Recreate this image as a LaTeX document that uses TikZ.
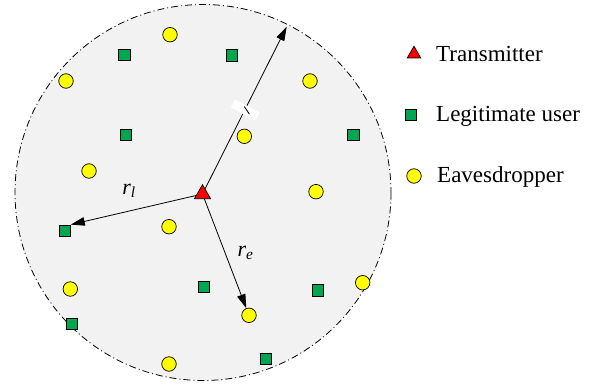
\documentclass[tikz,border=0pt]{standalone}
\usepackage{fontspec}
\setmainfont{Liberation Serif}
\usetikzlibrary{shapes.geometric,arrows.meta}
\definecolor{ugreen}{RGB}{0,166,80}
\definecolor{eyellow}{RGB}{255,255,0}
\definecolor{bgray}{RGB}{242,242,242}
\begin{document}
\begin{tikzpicture}[x=1pt,y=-1pt,
  user/.style={draw=black,line width=0.7pt,fill=ugreen,rectangle,minimum size=11.5pt,inner sep=0pt},
  eve/.style={draw=black,line width=0.7pt,fill=eyellow,circle,minimum size=14.5pt,inner sep=0pt},
  txs/.style={draw=black,line width=0.7pt,fill=red,regular polygon,regular polygon sides=3,minimum size=18.6pt,inner sep=0pt},
  link/.style={line width=0.8pt,-{Triangle[length=14pt,width=8.5pt]}},
  lbl/.style={font=\fontsize{23}{23}\selectfont,anchor=base west,inner sep=0pt},
  rlab/.style={font=\fontsize{22}{22}\selectfont,inner sep=0pt},
]
\useasboundingbox (0,0) rectangle (602,388);
% coverage area
\path[fill=bgray,draw=black,line width=0.8pt,dash pattern=on 7pt off 3pt on 1pt off 3pt]
  (203,192.5) circle[radius=188];
% legitimate users
\node[user] (g1) at (124.3,55) {};
\node[user] (g2) at (232,55.3) {};
\node[user] (g3) at (125.7,135) {};
\node[user] (g4) at (353.3,135) {};
\node[user] (g5) at (64.7,230.7) {};
\node[user] (g6) at (204,287) {};
\node[user] (g7) at (317.7,290.5) {};
\node[user] (g8) at (71.7,323.7) {};
\node[user] (g9) at (266,359) {};
% eavesdroppers
\node[eve] (e1) at (170,34.7) {};
\node[eve] (e2) at (66,81) {};
\node[eve] (e3) at (310,81) {};
\node[eve] (e4) at (244.3,136.3) {};
\node[eve] (e5) at (89,171) {};
\node[eve] (e6) at (316,191.7) {};
\node[eve] (e7) at (169,226.7) {};
\node[eve] (e8) at (70.3,289) {};
\node[eve] (e9) at (362.7,282.7) {};
\node[eve] (e10) at (249,315.3) {};
\node[eve] (e11) at (169,364) {};
% transmitter
\node[txs] (T) at (202.5,194) {};
\coordinate (edge) at (286.7,26.7);
\draw[link] (T) -- (edge);
\draw[link] (T) -- (g5.north east);
\draw[link] (T) -- (e10);
% break mark on the radius
\node[fill=white,minimum width=28pt,minimum height=9pt,inner sep=0pt,rotate=-28] (brk) at (245.3,110) {};
\coordinate (ta) at (244.3,106.5);
\coordinate (tb) at (249.3,114);
\draw[line width=0.8pt] (ta) -- (tb);
% distance labels
\node[rlab] (rl) at (129,191) {\textit{r}\textsubscript{\textit{l}}};
\node[rlab] (re) at (245.5,253) {\textit{r}\textsubscript{\textit{e}}};
% legend
\node[txs,minimum size=15.6pt] (lt) at (414,54) {};
\node[user] (lu) at (411,115) {};
\node[eve] (le) at (414,176) {};
\node[lbl] (ltt) at (436,61) {Transmitter};
\node[lbl] (lut) at (436,121.7) {Legitimate user};
\node[lbl] (let) at (437,182.5) {Eavesdropper};
\end{tikzpicture}
\end{document}
